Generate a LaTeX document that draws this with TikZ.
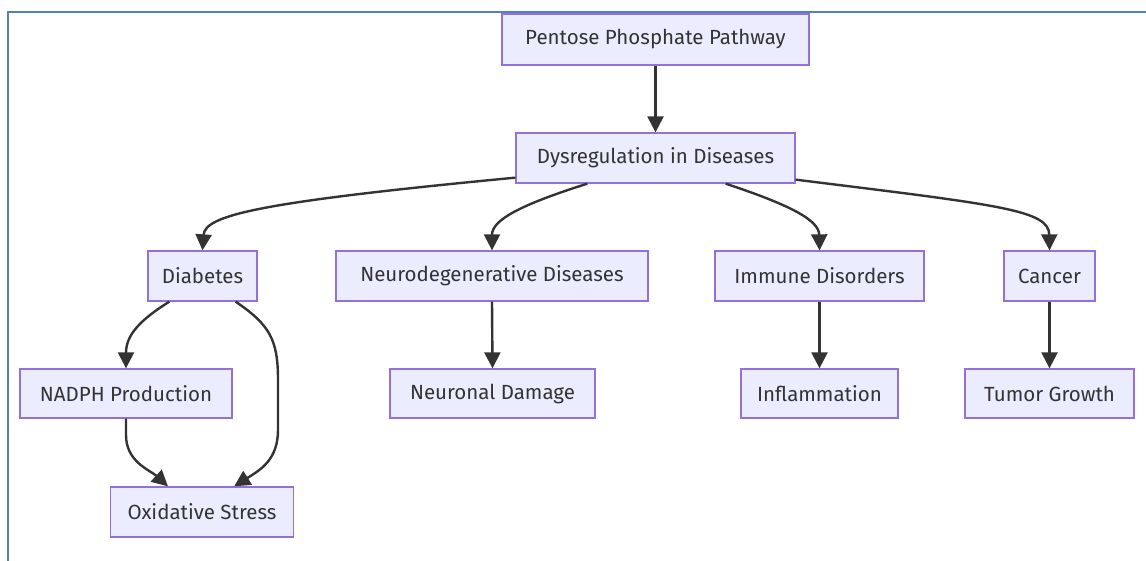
\documentclass[tikz,border=0pt]{standalone}
\usepackage{fontspec}
\setmainfont{Fira Sans}
\usetikzlibrary{arrows.meta}
\definecolor{nodefill}{HTML}{ECECFF}
\definecolor{nodeborder}{HTML}{9370DB}
\definecolor{edgecol}{HTML}{333333}
\definecolor{frameblue}{HTML}{4F81BD}
\tikzset{
  box/.style={draw=nodeborder, fill=nodefill, line width=1.3pt, inner sep=0pt,
    text=edgecol, font=\fontsize{20.5}{24}\selectfont, anchor=center},
  conn/.style={draw=edgecol, line width=2.4pt, -{Triangle[length=16pt,width=16pt]}},
}
\begin{document}
\begin{tikzpicture}[x=1pt,y=-1pt]
\useasboundingbox (0,0) rectangle (1146,561);
\draw[frameblue, line width=2.2pt] (8,561) -- (8,12) -- (1146,12);
% nodes
\node[box, minimum width=307pt, minimum height=51pt] (ppp) at (655.5,39.5) {Pentose Phosphate Pathway};
\node[box, minimum width=279pt, minimum height=50pt] (dys) at (655.5,158) {Dysregulation in Diseases};
\node[box, minimum width=109pt, minimum height=50pt] (dia) at (202.5,276) {Diabetes};
\node[box, minimum width=312pt, minimum height=50pt] (neu) at (492,276) {Neurodegenerative Diseases};
\node[box, minimum width=209pt, minimum height=50pt] (imm) at (819.5,276) {Immune Disorders};
\node[box, minimum width=91pt, minimum height=50pt] (can) at (1049.5,276) {Cancer};
\node[box, minimum width=212pt, minimum height=49pt] (nad) at (126,393.5) {NADPH Production};
\node[box, minimum width=205pt, minimum height=49pt] (ned) at (492.5,393.5) {Neuronal Damage};
\node[box, minimum width=157pt, minimum height=49pt] (inf) at (819.5,393.5) {Inflammation};
\node[box, minimum width=169pt, minimum height=49pt] (tum) at (1049.5,393.5) {Tumor Growth};
\node[box, minimum width=183pt, minimum height=50pt] (oxi) at (202,512) {Oxidative Stress};
% connectors
\draw[conn] (ppp.south) -- (dys.north);
\draw[conn] (dys.south west) ++(0,-6) .. controls (260,202) and (205,215) .. (dia.north);
\draw[conn] ([xshift=72pt]dys.south west) .. controls (520,205) and (492,220) .. (neu.north);
\draw[conn] ([xshift=-70pt]dys.south east) .. controls (790,205) and (819,220) .. (imm.north);
\draw[conn] (dys.south east) ++(0,-4) .. controls (1000,205) and (1049,210) .. (can.north);
\draw[conn] ([xshift=22pt]dia.south west) .. controls (140,320) and (126,335) .. (nad.north);
\draw[conn] ([xshift=-22pt]dia.south east) .. controls (270,325) and (278,340) .. (278,380) -- (278,430) .. controls (278,460) and (260,470) .. ([xshift=-60pt]oxi.north east);
\draw[conn] (nad.south) -- (126,435) .. controls (126,462) and (150,470) .. ([xshift=-34pt]oxi.north);
\draw[conn] (neu.south) -- (ned.north);
\draw[conn] (imm.south) -- (inf.north);
\draw[conn] (can.south) -- (tum.north);
\end{tikzpicture}
\end{document}
